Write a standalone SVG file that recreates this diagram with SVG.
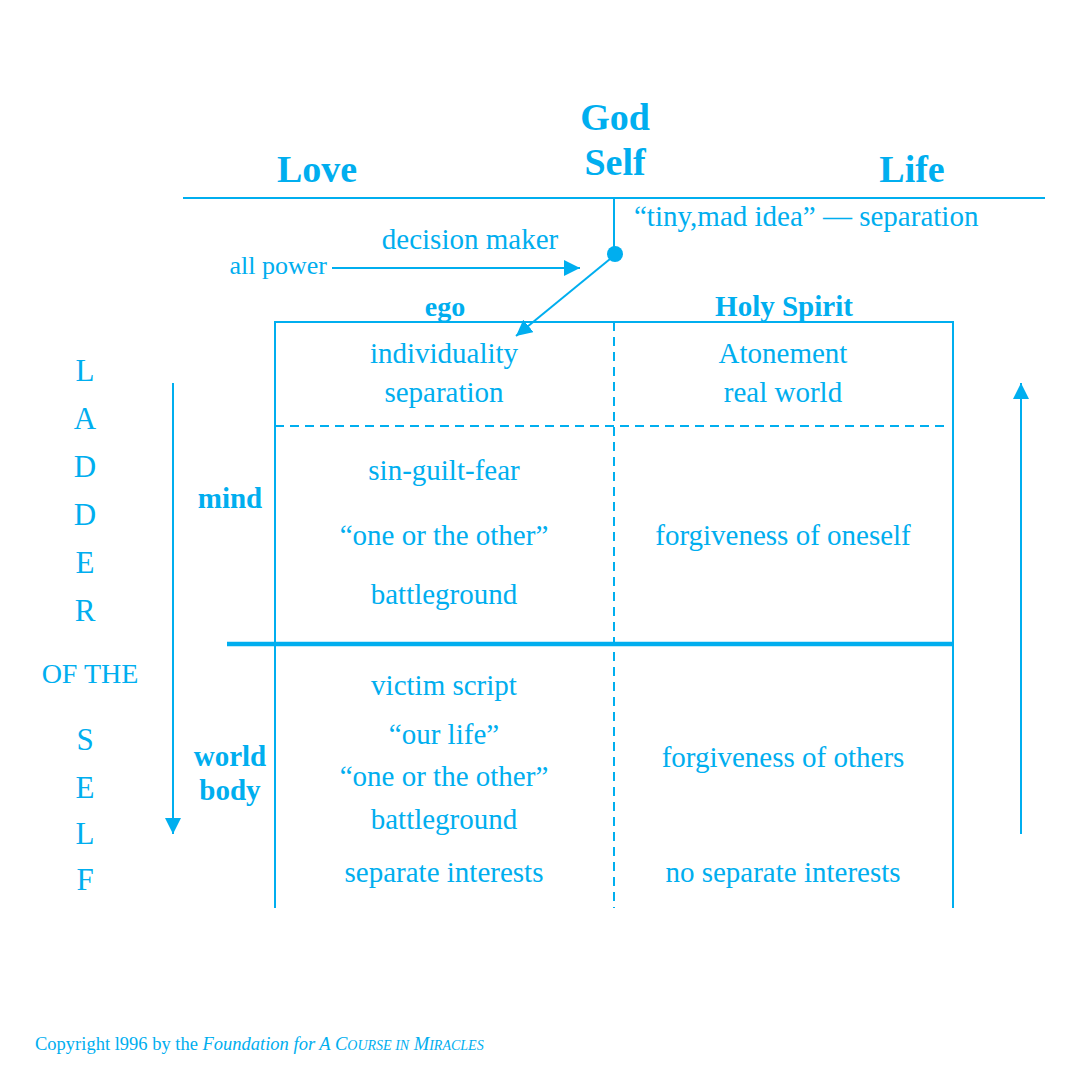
<svg xmlns="http://www.w3.org/2000/svg" width="1080" height="1086" viewBox="0 0 1080 1086">
<style>
text{font-family:"Liberation Serif","Times New Roman",serif;fill:#00aeef}
.b{font-weight:bold}
.c{text-anchor:middle}
.t{font-size:29px}
.h{font-size:38px;font-weight:bold;text-anchor:middle}
.lad{font-size:31px;text-anchor:middle}
.ln{stroke:#00aeef;stroke-width:2;fill:none}
.dash{stroke:#00aeef;stroke-width:2;fill:none;stroke-dasharray:9 6}
</style>
<defs>
<marker id="ah2" viewBox="0 0 10 10" refX="10" refY="5" markerWidth="16" markerHeight="16" markerUnits="userSpaceOnUse" orient="auto">
<path d="M0,0 L10,5 L0,10 Z" fill="#00aeef"/>
</marker>
</defs>
<rect width="1080" height="1086" fill="#fff"/>
<g id="connectors">
<line class="ln" x1="183" y1="198" x2="1045" y2="198"/>
<line class="ln" x1="614" y1="198" x2="614" y2="254"/>
<circle cx="615" cy="254" r="8" fill="#00aeef"/>
<line class="ln" x1="610" y1="259" x2="516" y2="336" marker-end="url(#ah2)"/>
<line class="ln" x1="332" y1="268" x2="580" y2="268" marker-end="url(#ah2)"/>
<line class="ln" x1="173" y1="383" x2="173" y2="834" marker-end="url(#ah2)"/>
<line class="ln" x1="1021" y1="834" x2="1021" y2="383" marker-end="url(#ah2)"/>
</g>
<g id="grid">
<polyline class="ln" points="275,908 275,322 953,322 953,908"/>
<line class="dash" x1="614" y1="322" x2="614" y2="908"/>
<line class="dash" x1="275" y1="426" x2="948" y2="426"/>
<line stroke="#00aeef" stroke-width="4.5" x1="227" y1="644" x2="953" y2="644"/>
</g>
<g id="top">
<text class="h" x="615" y="130">God</text>
<text class="h" x="615" y="175">Self</text>
<text class="h" x="317" y="182">Love</text>
<text class="h" x="912" y="182">Life</text>
<text class="t" x="634" y="226">“tiny,mad idea” — separation</text>
<text class="t c" x="470" y="249">decision maker</text>
<text x="327" y="274" style="font-size:26px;text-anchor:end">all power</text>
</g>
<g id="headers">
<text class="b c" x="445" y="316" style="font-size:28px">ego</text>
<text class="b c" x="784" y="316" style="font-size:29px">Holy Spirit</text>
<text class="t b c" x="230" y="508">mind</text>
<text class="t b c" x="230" y="766">world</text>
<text class="t b c" x="230" y="800">body</text>
</g>
<g id="ego-mind">
<text class="t c" x="444" y="363">individuality</text>
<text class="t c" x="444" y="402">separation</text>
<text class="t c" x="444" y="480">sin-guilt-fear</text>
<text class="t c" x="444" y="545">“one or the other”</text>
<text class="t c" x="444" y="604">battleground</text>
</g>
<g id="hs-mind">
<text class="t c" x="783" y="363">Atonement</text>
<text class="t c" x="783" y="402">real world</text>
<text class="t c" x="783" y="545">forgiveness of oneself</text>
</g>
<g id="ego-body">
<text class="t c" x="444" y="695">victim script</text>
<text class="t c" x="444" y="744">“our life”</text>
<text class="t c" x="444" y="786">“one or the other”</text>
<text class="t c" x="444" y="829">battleground</text>
<text class="t c" x="444" y="882">separate interests</text>
</g>
<g id="hs-body">
<text class="t c" x="783" y="767">forgiveness of others</text>
<text class="t c" x="783" y="882">no separate interests</text>
</g>
<g id="ladder">
<text class="lad" x="85" y="381">L</text>
<text class="lad" x="85" y="429">A</text>
<text class="lad" x="85" y="477">D</text>
<text class="lad" x="85" y="525">D</text>
<text class="lad" x="85" y="573">E</text>
<text class="lad" x="85" y="621">R</text>
<text x="90" y="683" style="font-size:28px;text-anchor:middle">OF THE</text>
<text class="lad" x="85" y="750">S</text>
<text class="lad" x="85" y="798">E</text>
<text class="lad" x="85" y="844">L</text>
<text class="lad" x="85" y="890">F</text>
</g>
<g id="copyright">
<text x="35" y="1050" style="font-size:18.5px">Copyright l996 by the <tspan font-style="italic">Foundation for A C<tspan font-size="14">OURSE IN</tspan> M<tspan font-size="14">IRACLES</tspan></tspan></text>
</g>
</svg>
